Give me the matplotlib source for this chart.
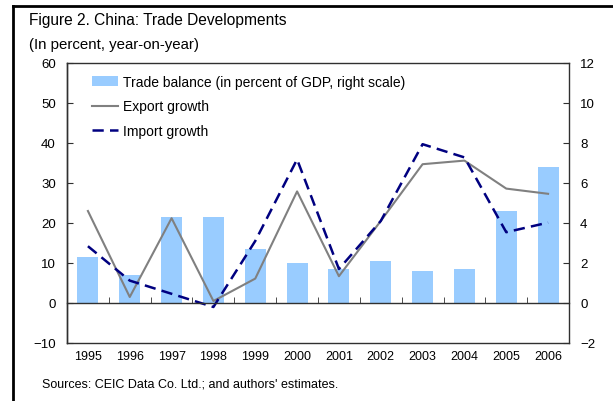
import matplotlib.pyplot as plt
from matplotlib.lines import Line2D
from matplotlib.ticker import FixedLocator
import numpy as np

plt.rcParams['font.family'] = ['Liberation Sans', 'DejaVu Sans']

# data
years = ["1995", "1996", "1997", "1998", "1999", "2000",
         "2001", "2002", "2003", "2004", "2005", "2006"]
trade_balance = [2.3, 1.4, 4.3, 4.3, 2.7, 2.0, 1.7, 2.1, 1.6, 1.7, 4.6, 6.8]
export_growth = [23.0, 1.5, 21.2, 0.5, 6.1, 27.9, 6.7, 20.5, 34.7, 35.6, 28.6, 27.3]
import_growth = [14.2, 5.6, 2.3, -1.0, 15.5, 35.9, 8.5, 20.5, 39.7, 36.4, 17.7, 20.1]

x = np.arange(len(years))
spine_col = "#303030"

fig = plt.figure(figsize=(6.13, 4.02), dpi=100)
ax = fig.add_axes([67 / 613, 1 - 344 / 402, 502 / 613, 280 / 402])
ax2 = ax.twinx()

# bars on the right scale, behind the lines
bars = ax2.bar(x, trade_balance, width=0.5, color="#99CCFF", zorder=1,
               label="Trade balance (in percent of GDP, right scale)")
ax.set_zorder(ax2.get_zorder() + 1)
ax.patch.set_visible(False)

l1, = ax.plot(x, export_growth, color="#808080", lw=1.5, label="Export growth")
l2, = ax.plot(x, import_growth, color="#000080", lw=1.8, dashes=(4.5, 2.5),
              label="Import growth")

ax.set_xlim(-0.5, 11.5)
ax.set_ylim(-10, 60)
ax2.set_ylim(-2, 12)
ax.set_yticks(range(-10, 61, 10))
ax2.set_yticks(range(-2, 13, 2))

# x axis sits on the zero line, ticks between years
ax.spines["bottom"].set_position(("data", 0))
ax.set_xticks(x)
ax.set_xticklabels(years)
ax.xaxis.set_minor_locator(FixedLocator(np.arange(0.5, 11, 1)))
ax.tick_params(axis="x", which="major", length=0, pad=34, labelsize=9)
ax.tick_params(axis="x", which="minor", direction="in", length=4,
               color=spine_col)
ax.tick_params(axis="y", direction="in", length=4, color=spine_col,
               labelsize=9.5, pad=8)
ax2.tick_params(axis="y", direction="in", length=4, color=spine_col,
                labelsize=9.5, pad=8)

for a in (ax, ax2):
    for s in a.spines.values():
        s.set_color(spine_col)
        s.set_linewidth(1.0)
ax.spines["top"].set_visible(False)
ax.spines["right"].set_visible(False)

ax.legend([bars, l1, l2],
          ["Trade balance (in percent of GDP, right scale)",
           "Export growth", "Import growth"],
          loc="upper left", bbox_to_anchor=(25 / 502, 1 - 12 / 280),
          frameon=False, fontsize=10, borderpad=0, borderaxespad=0,
          handlelength=1.9, handletextpad=0.3, labelspacing=0.75)

fig.text(29 / 613, 1 - 21 / 402, "Figure 2. China: Trade Developments",
         fontsize=11.2, va="center", ha="left")
fig.text(29 / 613, 1 - 45 / 402, "(In percent, year-on-year)",
         fontsize=10.8, va="center", ha="left")
fig.text(42 / 613, 1 - 385 / 402,
         "Sources: CEIC Data Co. Ltd.; and authors' estimates.",
         fontsize=9, va="center", ha="left")

# outer frame (top and left only)
fig.add_artist(Line2D([13 / 613, 1], [1 - 7 / 402, 1 - 7 / 402],
                      color="black", lw=2, transform=fig.transFigure))
fig.add_artist(Line2D([13 / 613, 13 / 613], [0, 1 - 7 / 402],
                      color="black", lw=2, transform=fig.transFigure))

fig.savefig("out.png", dpi=100)
